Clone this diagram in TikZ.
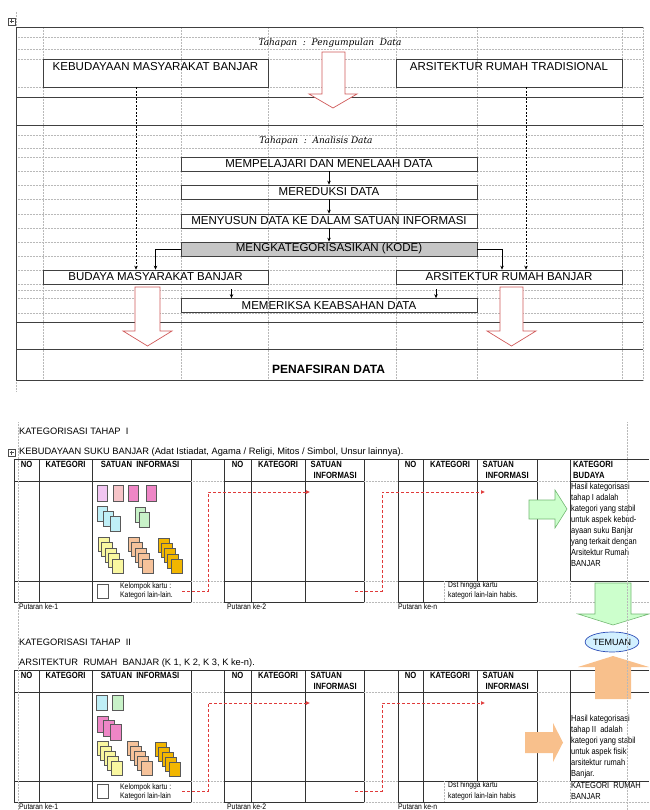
\documentclass[tikz,border=0pt]{standalone}
\usepackage{fontspec}
\setmainfont{Liberation Sans}
\newfontfamily\narrowfont[FakeStretch=0.85]{Liberation Sans}
\newfontfamily\stagefont{DejaVu Serif}
\usetikzlibrary{arrows.meta,shapes.geometric}
\definecolor{arrowred}{HTML}{D05A5A}
\definecolor{dashred}{HTML}{E03A3A}
\definecolor{cardlilac}{HTML}{F2C6F2}
\definecolor{cardrose}{HTML}{F6C4C8}
\definecolor{cardpink}{HTML}{EE86C6}
\definecolor{cardcyan}{HTML}{BFEFF7}
\definecolor{cardgreen}{HTML}{C8F2C8}
\definecolor{cardyellow}{HTML}{F9F7A0}
\definecolor{cardpeach}{HTML}{F6C29A}
\definecolor{cardorange}{HTML}{F2B600}
\definecolor{greenfill}{HTML}{CCFFCC}
\definecolor{greenline}{HTML}{72B872}
\definecolor{orangefill}{HTML}{F8C08C}
\definecolor{temuanfill}{HTML}{D2F0FF}
\definecolor{temuanline}{HTML}{3050B8}

\begin{document}
\begin{tikzpicture}[x=1pt,y=-1pt,
gridline/.style={gray!55, densely dotted, line width=0.5pt},
frameline/.style={black!75, line width=0.8pt},
procbox/.style={draw=black!75, line width=0.7pt, minimum width=296pt, minimum height=14pt, inner sep=0pt, font=\fontsize{11.5}{12}\selectfont},
flow/.style={-{Stealth[length=4pt,width=3.5pt]}, black, line width=0.6pt},
bigarrow/.style={draw=arrowred, fill=white, line width=0.7pt},
tbl/.style={black!80, line width=0.7pt},
hdr/.style={font=\narrowfont\bfseries\fontsize{9}{10}\selectfont, inner sep=0pt},
smalltext/.style={font=\narrowfont\fontsize{8}{9}\selectfont, inner sep=0pt, anchor=west},
celltext/.style={font=\narrowfont\fontsize{8.8}{11}\selectfont, inner sep=0pt, align=left},
sectext/.style={font=\fontsize{9.3}{10}\selectfont, inner sep=0pt, anchor=west},
card/.style={draw=black!65, line width=0.4pt},
redflow/.style={dashred, line width=0.7pt, dash pattern=on 3pt off 2pt, -{Latex[length=4pt,width=4pt]}},
]
\useasboundingbox (0,0) rectangle (649,810);

% Top table: grid
\foreach \y in {37,49,59,87,135,148,157,171,185,199,214,228,242,256,270,284,290,298,313}
\draw[gridline] (16,\y) -- (643,\y);
\foreach \x in {43,181,268,396,477,622,643}
\draw[gridline] (\x,27) -- (\x,380);
\draw[gridline] (16,12) -- (16,27);
\draw[gridline] (16,380) -- (16,392);
\foreach \y in {27,97,125,322,349,380}
\draw[frameline] (16,\y) -- (643,\y);
\draw[frameline] (16,27) -- (16,380);
% table handle
\draw[black!70, line width=0.4pt] (8,18) rectangle (15,25) (11.5,19.5) -- (11.5,23.5) (9.5,21.5) -- (13.5,21.5);

% Stage titles
\node[font=\stagefont\itshape\fontsize{9}{10}\selectfont] (stage1) at (330,43) {Tahapan\ \ :\ \ Pengumpulan\ \ Data};
\node[font=\stagefont\itshape\fontsize{9}{10}\selectfont] (stage2) at (316,141) {Tahapan\ \ :\ \ Analisis Data};

% Boxes
\node[procbox, minimum width=225pt, minimum height=28pt, text height=10pt, text depth=14pt, inner ysep=2pt] (kebud) at (155.5,73) {KEBUDAYAAN MASYARAKAT BANJAR};
\node[procbox, minimum width=226pt, minimum height=28pt, text height=10pt, text depth=14pt, inner ysep=2pt] (arsitrad) at (509,73) {ARSITEKTUR RUMAH TRADISIONAL};
\node[procbox] (study) at (329,164) {MEMPELAJARI DAN MENELAAH DATA};
\node[procbox] (reduce) at (329,192) {MEREDUKSI DATA};
\node[procbox] (compose) at (329,221) {MENYUSUN DATA KE DALAM SATUAN INFORMASI};
\node[procbox, fill=gray!45] (code) at (329,249) {MENGKATEGORISASIKAN (KODE)};
\node[procbox, minimum width=225pt] (budaya) at (155.5,277) {BUDAYA MASYARAKAT BANJAR};
\node[procbox, minimum width=226pt] (arsibanjar) at (509,277) {ARSITEKTUR RUMAH BANJAR};
\node[procbox] (check) at (329,305.5) {MEMERIKSA KEABSAHAN DATA};
\node[font=\bfseries\fontsize{12}{14}\selectfont] (interp) at (328.5,369) {PENAFSIRAN DATA};

% Flow
\draw[flow] (study) -- (reduce);
\draw[flow] (reduce) -- (compose);
\draw[flow] (compose) -- (code);
\draw[flow] (code.west) -| (budaya.north);
\draw[flow] (code.east) -| ([xshift=-7pt]arsibanjar.north);
\draw[flow, dash pattern=on 2pt off 1.5pt] ([xshift=-19.5pt]kebud.south) -- ([xshift=-19.5pt]budaya.north);
\draw[flow, dash pattern=on 2pt off 1.5pt] ([xshift=17pt]arsitrad.south) -- ([xshift=17pt]arsibanjar.north);
\draw[flow, shorten <=5pt] ([xshift=76pt]budaya.south) -- ([xshift=76pt]budaya.south |- check.north);
\draw[flow, shorten <=5pt] ([xshift=-73pt]arsibanjar.south) -- ([xshift=-73pt]arsibanjar.south |- check.north);

% Hollow arrows
\draw[bigarrow] (322,52) -- (345,52) -- (345,94) -- (357,94) -- (333,108) -- (309,94) -- (322,94) -- cycle;
\draw[bigarrow] (135,287) -- (160,287) -- (160,331) -- (172,331) -- (147.5,346) -- (123,331) -- (135,331) -- cycle;
\draw[bigarrow] (500,287) -- (523,287) -- (523,331) -- (536,331) -- (511.5,346) -- (487,331) -- (500,331) -- cycle;

% Categorisation tables
\node[sectext] (tahap1) at (19,431) {KATEGORISASI TAHAP\ \ I};
\node[sectext] (suku) at (19,452) {KEBUDAYAAN SUKU BANJAR (Adat Istiadat, Agama / Religi, Mitos / Simbol, Unsur lainnya).};
\node[sectext] (tahap2) at (19,642) {KATEGORISASI TAHAP\ \ II};
\node[sectext] (rumah) at (19,663) {ARSITEKTUR\ \ RUMAH\ \ BANJAR (K 1, K 2, K 3, K ke-n).};
\draw[black!70, line width=0.4pt] (8,449) rectangle (15,456) (11.5,450.5) -- (11.5,454.5) (9.5,452.5) -- (13.5,452.5);
\foreach \ya/\yb/\yc/\yd in {459/481/581/602, 670/692/781/802} {
\foreach \xa/\xb/\xc/\xd/\xe in {14/39/92/191/\yd, 224/251/305/364/\yd, 398/423/477/537/\yc} {
\draw[tbl] (\xa,\ya) rectangle (\xd,\yd);
\draw[tbl] (\xa,\yb) -- (\xd,\yb) (\xa,\yc) -- (\xd,\yc);
\draw[tbl] (\xb,\ya) -- (\xb,\yd) (\xc,\ya) -- (\xc,\xe);
\node[hdr] (no) at ({(\xa+\xb)/2},\ya+5.5) {NO};
\node[hdr] (kat) at ({(\xb+\xc)/2},\ya+5.5) {KATEGORI};
}
\foreach \xa/\xb in {191/224, 364/398, 537/570} {
\draw[tbl] (\xa,\ya) -- (\xb,\ya);
\draw[gridline] (\xa,\yb) -- (\xb,\yb) (\xa,\yc) -- (\xb,\yc) (\xa,\yd) -- (\xb,\yd);
}
\draw[tbl] (649,\ya) -- (570,\ya) -- (570,\yc) -- (649,\yc) (570,\yb) -- (649,\yb);
\draw[gridline] (570,\yc) -- (570,\yd) -- (649,\yd);
\draw[gridline] (444,\yc) -- (444,\yd);
\node[hdr] (sat1) at (140,\ya+5.5) {SATUAN\ \ INFORMASI};
\foreach \xc in {305,477} {
\node[hdr, anchor=west] (sat) at (\xc+5.5,\ya+5.5) {SATUAN};
\node[hdr, anchor=west] (inf) at (\xc+8.5,\ya+16.5) {INFORMASI};
}
% rounds
\coordinate (s1) at (182,\yc+10);
\coordinate (e1) at (310,\yb+11);
\coordinate (s2) at (355,\yc+10);
\coordinate (e2) at (485,\yb+11);
\draw[redflow] (s1) -- ++(26,0) |- (e1);
\draw[redflow] (s2) -- ++(27,0) |- (e2);
\draw[card, fill=white] (97,\yc+3) rectangle ++(11,14);
\node[smalltext, anchor=base west] (put1) at (19,\yd+7) {Putaran ke-1};
\node[smalltext, anchor=base west] (put2) at (227,\yd+7) {Putaran ke-2};
\node[smalltext, anchor=base west] (putn) at (398,\yd+7) {Putaran ke-n};
}
\node[hdr, anchor=west] (katbud) at (573,464.5) {KATEGORI};
\node[hdr, anchor=west] (budhdr) at (573,475.5) {BUDAYA};

% Cards, stage I
\foreach \x/\c in {97/cardlilac,113/cardrose,128/cardpink,146/cardpink}
\filldraw[card, fill=\c] (\x,485) rectangle ++(10,16);
\foreach \i in {0,1,2}
\filldraw[card, fill=cardcyan] (97+6.5*\i,506+5*\i) rectangle ++(10,15);
\foreach \i in {0,1}
\filldraw[card, fill=cardgreen] (135+4*\i,507+5*\i) rectangle ++(10,15);
\foreach \i in {0,...,4} {
\filldraw[card, fill=cardyellow] (98+3.5*\i,537+5.5*\i) rectangle ++(11,14);
\filldraw[card, fill=cardpeach] (128+3.5*\i,537+5.5*\i) rectangle ++(11,14);
\filldraw[card, fill=cardorange] (158+3.2*\i,538+5.3*\i) rectangle ++(11,14);
}
\node[smalltext] (kel1) at (120,586) {Kelompok kartu :};
\node[smalltext] (lain1) at (120,595) {Kategori lain-lain.};
\node[smalltext] (dst1) at (448,585) {Dst hingga kartu};
\node[smalltext] (habis1) at (448,595) {kategori lain-lain habis.};
\node[celltext, anchor=north west] (hasil1) at (571,482.5) {Hasil kategorisasi\\tahap I adalah\\kategori yang stabil\\untuk aspek kebud-\\ayaan suku Banjar\\yang terkait dengan\\Arsitektur Rumah\\BANJAR};

% Cards, stage II
\filldraw[card, fill=cardcyan] (96,695) rectangle ++(11,15);
\filldraw[card, fill=cardgreen] (112,695) rectangle ++(11,15);
\foreach \i in {0,1,2}
\filldraw[card, fill=cardpink] (97+6.5*\i,716+4*\i) rectangle ++(11,16);
\foreach \i in {0,...,4} {
\filldraw[card, fill=cardyellow] (97+3.5*\i,741+5*\i) rectangle ++(11,14);
\filldraw[card, fill=cardpeach] (127+3.5*\i,741+5*\i) rectangle ++(11,14);
\filldraw[card, fill=cardorange] (155+3.5*\i,742+5*\i) rectangle ++(11,14);
}
\node[smalltext] (kel2) at (120,787) {Kelompok kartu :};
\node[smalltext] (lain2) at (120,796) {Kategori lain-lain};
\node[smalltext] (dst2) at (448,785) {Dst hingga kartu};
\node[smalltext] (habis2) at (448,796) {kategori lain-lain habis};
\node[celltext, anchor=north west] (hasil2) at (571,714.5) {Hasil kategorisasi\\tahap II\ \ adalah\\kategori yang stabil\\untuk aspek fisik\\arsitektur rumah\\Banjar.};
\node[celltext, anchor=north west] (katrum) at (571,782) {KATEGORI\ \ RUMAH\\BANJAR};

% Findings
\draw[draw=greenline, fill=greenfill, line width=0.6pt] (529,500) -- (555,500) -- (555,490) -- (567,509) -- (555,528) -- (555,519) -- (529,519) -- cycle;
\draw[draw=greenline, fill=greenfill, line width=0.6pt] (595,583) -- (631,583) -- (631,614) -- (649,614) -- (613,625) -- (578,614) -- (595,614) -- cycle;
\fill[orangefill] (595,699) -- (631,699) -- (631,667) -- (649,667) -- (613,656) -- (578,667) -- (595,667) -- cycle;
\fill[orangefill] (525,732) -- (553,732) -- (553,723) -- (563,742.5) -- (553,762) -- (553,753) -- (525,753) -- cycle;
\node[ellipse, draw=temuanline, fill=temuanfill, line width=0.7pt, minimum width=50pt, minimum height=20pt, inner sep=0pt, font=\fontsize{9}{10}\selectfont] (temuan) at (612,642) {TEMUAN};
\draw[gridline] (18,422) -- (18,810);
\draw[gridline] (627,422) -- (627,810);
\end{tikzpicture}
\end{document}
